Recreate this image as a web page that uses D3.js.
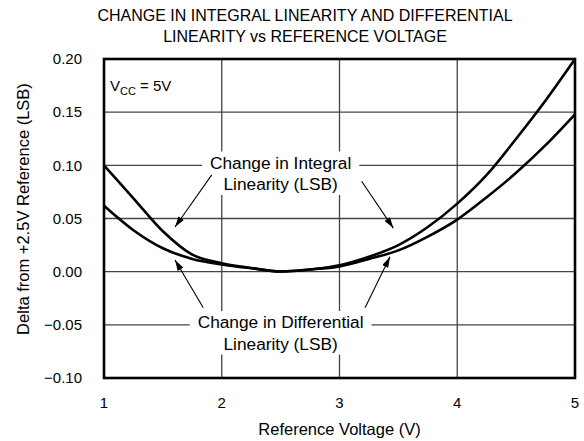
<!DOCTYPE html>
<html lang="en">
<head>
    <meta charset="UTF-8">
    <title>Change in Integral and Differential Linearity vs Reference Voltage</title>
    <script src="https://d3js.org/d3.v7.min.js"></script>
    <style>
        body { margin: 0; background: #fff; }
        svg { font-family: Arial, "Liberation Sans", Helvetica, sans-serif; }
    </style>
</head>
<body>
    <svg></svg>
    <script>
        // values
        const voltage = [1.0, 1.25, 1.5, 1.75, 2.0, 2.25, 2.5, 2.75, 3.0, 3.25, 3.5, 3.75, 4.0, 4.25, 4.5, 4.75, 5.0];
        const integralLin = [0.100, 0.069, 0.038, 0.016, 0.008, 0.0035, 0.0002, 0.002, 0.006, 0.014, 0.025, 0.042, 0.064, 0.091, 0.125, 0.161, 0.200];
        const differentialLin = [0.062, 0.039, 0.022, 0.012, 0.0068, 0.0032, 0.0002, 0.002, 0.005, 0.012, 0.020, 0.033, 0.049, 0.070, 0.093, 0.119, 0.148];

        const xTicks = [1, 2, 3, 4, 5];
        const yTicks = [-0.10, -0.05, 0.00, 0.05, 0.10, 0.15, 0.20];
        const titleLines = ["CHANGE IN INTEGRAL LINEARITY AND DIFFERENTIAL", "LINEARITY vs REFERENCE VOLTAGE"];

        // callouts, in data units
        const callouts = [
            { lines: ["Change in Integral", "Linearity (LSB)"], x: 2.5, y: 0.097,
              arrows: [[1.915, 0.091, 1.603, 0.042], [3.188, 0.085, 3.457, 0.041]] },
            { lines: ["Change in Differential", "Linearity (LSB)"], x: 2.5, y: -0.053,
              arrows: [[1.843, -0.034, 1.603, 0.011], [3.217, -0.034, 3.429, 0.014]] }
        ];

        const W = 584, H = 441;
        const margin = { top: 59, right: 9, bottom: 63, left: 104 };
        const width = W - margin.left - margin.right;
        const height = H - margin.top - margin.bottom;

        const svg = d3.select("svg").attr("width", W).attr("height", H);
        const g = svg.append("g").attr("transform", `translate(${margin.left},${margin.top})`);

        const x = d3.scaleLinear().domain([1, 5]).range([0, width]);
        const y = d3.scaleLinear().domain([-0.10, 0.20]).range([height, 0]);

        // grid
        g.append("g").selectAll("line")
            .data(xTicks.slice(1, -1))
            .join("line")
            .attr("x1", d => x(d)).attr("x2", d => x(d))
            .attr("y1", 0).attr("y2", height)
            .attr("stroke", "#444").attr("stroke-width", 1.3);
        g.append("g").selectAll("line")
            .data(yTicks.slice(1, -1))
            .join("line")
            .attr("y1", d => y(d)).attr("y2", d => y(d))
            .attr("x1", 0).attr("x2", width)
            .attr("stroke", "#444").attr("stroke-width", 1.3);

        // tick labels
        const fmt = d => d3.format(".2f")(d).replace("-", "\u2212");
        g.append("g").selectAll("text")
            .data(yTicks)
            .join("text")
            .attr("x", -22).attr("y", d => y(d)).attr("dy", "0.35em")
            .attr("text-anchor", "end")
            .attr("font-size", 15)
            .text(fmt);
        g.append("g").selectAll("text")
            .data(xTicks)
            .join("text")
            .attr("x", d => x(d)).attr("y", height + 30)
            .attr("text-anchor", "middle")
            .attr("font-size", 15)
            .text(d => d);

        // axis titles
        svg.append("text")
            .attr("x", margin.left + width / 2).attr("y", 435)
            .attr("text-anchor", "middle").attr("font-size", 16.5)
            .text("Reference Voltage (V)");
        svg.append("text")
            .attr("transform", `translate(29,${209}) rotate(-90)`)
            .attr("text-anchor", "middle").attr("font-size", 16.5)
            .text("Delta from +2.5V Reference (LSB)");

        svg.append("g").selectAll("text")
            .data(titleLines)
            .join("text")
            .attr("x", 305).attr("y", (d, i) => 21 + i * 20.5)
            .attr("text-anchor", "middle").attr("font-size", 16)
            .text(d => d);

        // callout text with white backing that breaks the grid
        const calloutG = g.append("g");
        callouts.forEach(c => {
            const cg = calloutG.append("g");
            const bg = cg.append("rect").attr("fill", "#fff");
            const t = cg.append("text")
                .attr("text-anchor", "middle").attr("font-size", 17.3);
            c.lines.forEach((line, i) => {
                t.append("tspan").attr("x", x(c.x)).attr("y", y(c.y) + i * 21.5).text(line);
            });
            const bb = t.node().getBBox();
            bg.attr("x", bb.x - 8).attr("y", bb.y - 1)
              .attr("width", bb.width + 16).attr("height", bb.height + 2);
        });

        // curves
        const line = d3.line()
            .x(d => x(d[0]))
            .y(d => y(d[1]))
            .curve(d3.curveMonotoneX);

        const series = [
            voltage.map((v, i) => [v, integralLin[i]]),
            voltage.map((v, i) => [v, differentialLin[i]])
        ];
        g.append("g").selectAll("path")
            .data(series)
            .join("path")
            .attr("d", line)
            .attr("fill", "none")
            .attr("stroke", "#000")
            .attr("stroke-width", 2.6);

        // frame
        g.append("rect")
            .attr("width", width).attr("height", height)
            .attr("fill", "none").attr("stroke", "#000").attr("stroke-width", 2.6);

        // arrows
        svg.append("defs").append("marker")
            .attr("id", "head")
            .attr("viewBox", "0 0 10 6")
            .attr("refX", 10).attr("refY", 3)
            .attr("markerWidth", 11).attr("markerHeight", 6.5)
            .attr("markerUnits", "userSpaceOnUse")
            .attr("orient", "auto")
            .append("path").attr("d", "M0,0 L10,3 L0,6 Z").attr("fill", "#000");

        callouts.forEach(c => {
            g.append("g").selectAll("line")
                .data(c.arrows)
                .join("line")
                .attr("x1", d => x(d[0])).attr("y1", d => y(d[1]))
                .attr("x2", d => x(d[2])).attr("y2", d => y(d[3]))
                .attr("stroke", "#000").attr("stroke-width", 1.1)
                .attr("marker-end", "url(#head)");
        });

        // Vcc note
        const vcc = g.append("text").attr("x", 6).attr("y", 32).attr("font-size", 15);
        vcc.append("tspan").text("V");
        vcc.append("tspan").attr("font-size", 11).attr("dy", 4).text("CC");
        vcc.append("tspan").attr("dy", -4).text(" = 5V");
    </script>
</body>
</html>
